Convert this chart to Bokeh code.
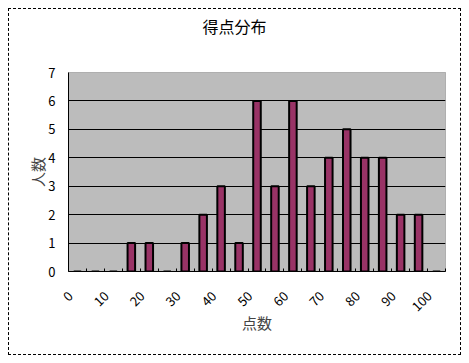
from math import pi
from bokeh.plotting import figure
from bokeh.models import FixedTicker, Range1d, Title, CustomJSTickFormatter
from bokeh.embed import file_html
from bokeh.resources import INLINE

# data
scores = [0, 5, 10, 15, 20, 25, 30, 35, 40, 45, 50, 55, 60, 65, 70, 75, 80, 85, 90, 95, 100]
counts = [0, 0, 0, 1, 1, 0, 1, 2, 3, 1, 6, 3, 6, 3, 4, 5, 4, 4, 2, 2, 0]
x_tick_values = [0, 10, 20, 30, 40, 50, 60, 70, 80, 90, 100]
y_tick_values = [0, 1, 2, 3, 4, 5, 6, 7]
title_text = "得点分布"
x_label = "点数"
y_label = "人数"

FONT = "Noto Sans CJK JP"
step = scores[1] - scores[0]
label_shift = 2  # shift of rotated tick labels (data units), Excel-like anchoring

W, H = 469, 363
# trailing empty line lifts the title towards the top of the chart
p = figure(width=W, height=H, output_backend="svg", toolbar_location=None,
           x_range=Range1d(scores[0] - step / 2, scores[-1] + step / 2),
           y_range=Range1d(y_tick_values[0], y_tick_values[-1]),
           title=Title(text=title_text + "\n", text_font=FONT, text_font_size="16px",
                       text_font_style="normal", text_color="black", align="left",
                       offset=134, standoff=21, vertical_align="bottom"))
p.min_border_left = 68
p.min_border_right = W - 445
p.min_border_top = 72
p.min_border_bottom = H - 271

p.background_fill_color = "#bcbcbc"
p.border_fill_color = "white"
p.border_fill_alpha = 0
p.outline_line_color = "#808080"
p.outline_line_dash = "1 1"
p.outline_line_width = 1
p.styles = {"outline": "1px dashed black", "outline-offset": "-9px"}

# bars
p.vbar(x=scores, top=counts, width=step * 0.42, fill_color="#993366",
       line_color="black", line_width=2)

# x axis
boundaries = [s - step / 2 for s in scores] + [scores[-1] + step / 2]
p.xaxis.ticker = FixedTicker(ticks=[v - label_shift for v in x_tick_values],
                             minor_ticks=boundaries)
p.xaxis.formatter = CustomJSTickFormatter(args=dict(shift=label_shift),
                                          code="return String(Math.round(tick + shift));")
p.xaxis.major_tick_line_color = None
p.xaxis.minor_tick_line_color = "black"
p.xaxis.minor_tick_in = 3
p.xaxis.minor_tick_out = 0
p.xaxis.axis_line_color = "black"
p.xaxis.axis_line_width = 1
p.xaxis.major_label_orientation = pi / 4
p.xaxis.major_label_standoff = 16
p.xaxis.major_label_text_font = FONT
p.xaxis.major_label_text_font_size = "13px"
p.xaxis.major_label_text_color = "black"
p.xaxis.axis_label = x_label
p.xaxis.axis_label_text_font = FONT
p.xaxis.axis_label_text_font_size = "15px"
p.xaxis.axis_label_text_font_style = "normal"
p.xaxis.axis_label_standoff = -7
p.xgrid.grid_line_color = None

# y axis
p.yaxis.ticker = FixedTicker(ticks=y_tick_values)
p.yaxis.major_tick_line_color = None
p.yaxis.minor_tick_line_color = None
p.yaxis.axis_line_color = "black"
p.yaxis.axis_line_width = 1
p.yaxis.major_label_standoff = 7
p.yaxis.major_label_text_font = FONT
p.yaxis.major_label_text_font_size = "13px"
p.yaxis.major_label_text_color = "black"
p.yaxis.axis_label = y_label
p.yaxis.axis_label_text_font = FONT
p.yaxis.axis_label_text_font_size = "15px"
p.yaxis.axis_label_text_font_style = "normal"
p.yaxis.axis_label_standoff = -3
p.ygrid.ticker = FixedTicker(ticks=y_tick_values[1:-1])
p.ygrid.grid_line_color = "black"
p.ygrid.grid_line_width = 1

open("out.html", "w").write(file_html(p, INLINE))
